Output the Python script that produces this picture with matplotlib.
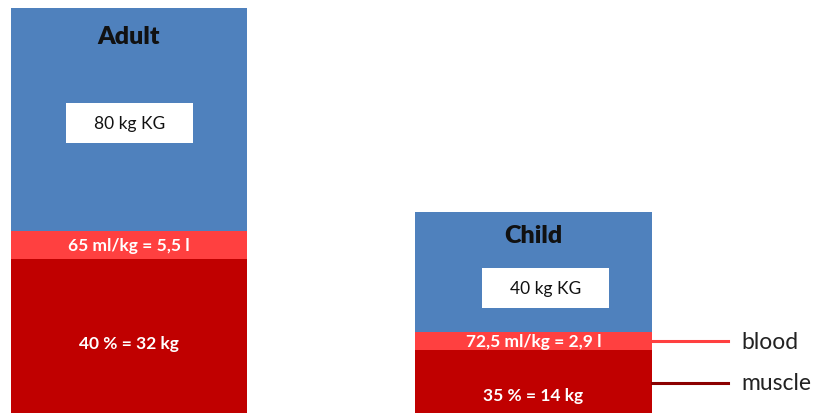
import matplotlib.pyplot as plt
from matplotlib.patches import Rectangle

# groups and segment heights (kg scale)
groups = ['Adult', 'Child']
total = [80, 40]
muscle = [30.6, 12.7]
blood = [5.6, 3.55]
body_labels = ['80 kg KG', '40 kg KG']
blood_labels = ['65 ml/kg = 5,5 l', '72,5 ml/kg = 2,9 l']
muscle_labels = ['40 % = 32 kg', '35 % = 14 kg']

blue = '#4F81BD'
light_red = '#FF4040'
dark_red = '#C00000'

plt.rcParams['font.family'] = ['Lato', 'DejaVu Sans']

fig = plt.figure(figsize=(8.13, 4.14), dpi=100)
ax = fig.add_axes([0, 0, 1, 1])

x = [0, 1]
w = 0.584
rest = [t - m - b for t, m, b in zip(total, muscle, blood)]
top_of_blood = [m + b for m, b in zip(muscle, blood)]

ax.bar(x, muscle, w, color=dark_red)
ax.bar(x, blood, w, bottom=muscle, color=light_red)
ax.bar(x, rest, w, bottom=top_of_blood, color=blue)

# titles and white boxes
title_y = [74.6, 35.4]
box_x = [0.001, 1.03]
box_y = [57.4, 25.0]
box_w = 0.314
box_h = 7.9
for i in range(2):
    ax.text(x[i], title_y[i], groups[i], ha='center', va='center',
            fontsize=18, fontweight='heavy', color='#111111')
    ax.add_patch(Rectangle((box_x[i] - box_w / 2, box_y[i] - box_h / 2), box_w, box_h,
                           facecolor='white', edgecolor='none'))
    ax.text(box_x[i], box_y[i], body_labels[i], ha='center', va='center',
            fontsize=12.5, color='#111111')
    ax.text(x[i], muscle[i] + blood[i] / 2, blood_labels[i], ha='center', va='center',
            fontsize=12.5, fontweight='bold', color='white')

muscle_text_y = [14.2, 3.9]
for i in range(2):
    ax.text(x[i], muscle_text_y[i], muscle_labels[i], ha='center', va='center',
            fontsize=12.5, fontweight='bold', color='white')

# legend lines on the right of the child bar
right = x[1] + w / 2
ax.plot([right, 1.481], [muscle[1] + blood[1] / 2] * 2, color=light_red, lw=2.2)
ax.plot([right, 1.481], [muscle[1] / 2] * 2, color='#8B0000', lw=2.2)
ax.text(1.513, muscle[1] + blood[1] / 2, 'blood', va='center', fontsize=16.5, color='#222222')
ax.text(1.513, muscle[1] / 2, 'muscle', va='center', fontsize=16.5, color='#222222')

ax.set_xlim(-0.319, 1.691)
ax.set_ylim(0.4, 81.85)
ax.axis('off')

fig.savefig('out.png', dpi=100)
